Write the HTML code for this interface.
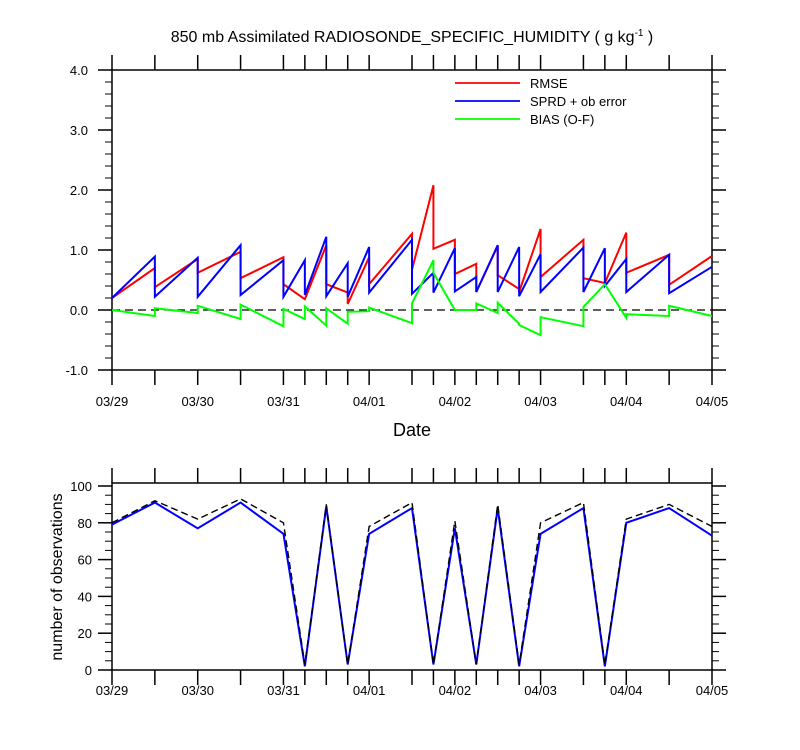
<!DOCTYPE html>
<html><head><meta charset="utf-8">
<style>
body{margin:0;background:#fff;}
svg{display:block;font-family:"Liberation Sans",Arial,sans-serif;}
</style></head>
<body>
<svg id="chart" width="800" height="750" viewBox="0 0 800 750">
<text x="412" y="42" text-anchor="middle" font-size="16">850 mb Assimilated RADIOSONDE_SPECIFIC_HUMIDITY ( g kg<tspan dy="-6" font-size="10">-1</tspan><tspan dy="6"> )</tspan></text>
<g id="topPanel"></g>
<g id="botPanel"></g>
<text x="412" y="436" text-anchor="middle" font-size="18">Date</text>
<text transform="translate(62,577) rotate(-90)" text-anchor="middle" font-size="16">number of observations</text>
<g>
<line x1="455" y1="83" x2="520" y2="83" stroke="#f00" stroke-width="1.8"/>
<text x="530" y="88" font-size="13">RMSE</text>
<line x1="455" y1="101" x2="520" y2="101" stroke="#00f" stroke-width="1.8"/>
<text x="530" y="106" font-size="13">SPRD + ob error</text>
<line x1="455" y1="119" x2="520" y2="119" stroke="#0f0" stroke-width="1.8"/>
<text x="530" y="124" font-size="13">BIAS (O-F)</text>
</g>
</svg>
<script>
const times=[0,0.5,1,1.5,2,2.25,2.5,2.75,3,3.5,3.75,4,4.25,4.5,4.75,5,5.5,5.75,6,6.5,7];
const dateLabels=["03/29","03/30","03/31","04/01","04/02","04/03","04/04","04/05"];
const yTopLabels=["-1.0","0.0","1.0","2.0","3.0","4.0"];
const yBotLabels=["0","20","40","60","80","100"];
const rmseStart=[0.2,0.38,0.62,0.53,0.43,0.18,0.43,0.1,0.43,0.67,1.02,0.6,0.3,0.58,0.3,0.55,0.53,0.45,0.62,0.42];
const rmseEnd=[0.7,0.85,0.97,0.88,0.18,1.08,0.29,0.88,1.27,2.08,1.17,0.77,1.07,0.35,1.35,1.17,0.45,1.29,0.92,0.9];
const sprdStart=[0.2,0.22,0.22,0.25,0.22,0.25,0.23,0.22,0.29,0.27,0.29,0.31,0.3,0.3,0.23,0.3,0.3,0.4,0.3,0.28];
const sprdEnd=[0.89,0.87,1.08,0.83,0.83,1.22,0.78,1.05,1.17,0.62,1.03,0.55,1.08,1.05,0.93,1.04,1.03,0.85,0.92,0.72];
const biasStart=[0.0,0.03,0.07,0.09,0.02,0.06,0.03,-0.03,0.04,0.11,0.62,0.0,0.11,0.12,-0.25,-0.12,0.05,0.43,-0.07,0.07];
const biasEnd=[-0.1,-0.05,-0.15,-0.27,-0.15,-0.26,-0.23,-0.02,-0.22,0.83,0.0,0.0,-0.05,-0.23,-0.42,-0.27,0.43,-0.13,-0.1,-0.1];
const obsUsed=[79,91,77,91,74,2,89,3,74,88,3,77,3,88,2,74,88,2,80,88,73];
const obsTotal=[80,92,82,93,80,3,90,3,78,91,3,81,3,90,3,80,91,3,82,90,78];

const NS="http://www.w3.org/2000/svg";
const X0=112,X1=712;
const xs=t=>X0+t*(X1-X0)/7;
const yT=v=>310-60*v;
const yB=v=>670-1.84*v;
function mk(p,tag,a){const e=document.createElementNS(NS,tag);for(const k in a)e.setAttribute(k,a[k]);p.appendChild(e);return e;}
const topG=document.getElementById('topPanel'),botG=document.getElementById('botPanel');

function axes(g,yt,yb,yMin,yMax,yStepMaj,yStepMin,yfn,labels,labY,labX){
  let r=mk(g,'rect',{x:X0,y:yt,width:X1-X0,height:yb-yt,fill:'none',stroke:'#000','stroke-width':1.5});
  
  
  const n=Math.round((yMax-yMin)/yStepMin);
  for(let k=0;k<=n;k++){
    const v=yMin+k*yStepMin;
    const maj=Math.abs(Math.round(v/yStepMaj)*yStepMaj-v)<1e-6;const L=maj?14:7;const y=yfn(v);
    mk(g,'line',{x1:X0-L,y1:y,x2:X0,y2:y,stroke:'#000','stroke-width':maj?1.5:1});
    mk(g,'line',{x1:X1,y1:y,x2:X1+L,y2:y,stroke:'#000','stroke-width':maj?1.5:1});
  }
  labels.forEach((s,i)=>{const v=yMin+i*yStepMaj;const t=mk(g,'text',{x:labX,y:yfn(v)+5,'text-anchor':'end','font-size':13});t.textContent=s;
    
    });
  times.forEach(t=>{const x=xs(t);
    mk(g,'line',{x1:x,y1:yt-15,x2:x,y2:yt,stroke:'#000','stroke-width':1.5});
    mk(g,'line',{x1:x,y1:yb,x2:x,y2:yb+15,stroke:'#000','stroke-width':1.5});});
  dateLabels.forEach((s,i)=>{const t=mk(g,'text',{x:xs(i),y:labY,'text-anchor':'middle','font-size':13});t.textContent=s;
    
    });
}
axes(topG,70,370,-1,4,1,0.2,yT,yTopLabels,406,88);
axes(botG,483,670,0,100,20,5,yB,yBotLabels,695,92);

let z=mk(topG,'line',{x1:X0,y1:yT(0),x2:X1,y2:yT(0),stroke:'#000','stroke-width':1.3,'stroke-dasharray':'8,5'});



function seg(st,en,col,name){
  let d='';for(let i=0;i<st.length;i++){d+=(i?'L':'M')+xs(times[i])+','+yT(st[i])+'L'+xs(times[i+1])+','+yT(en[i]);}
  const p=mk(topG,'path',{d:d,fill:'none',stroke:col,'stroke-width':2});
  
  
}
seg(rmseStart,rmseEnd,'#f00','rmse-line');
seg(sprdStart,sprdEnd,'#00f','sprd-line');
seg(biasStart,biasEnd,'#0f0','bias-line');

function ln(vals,col,dash,w,name){
  const d=vals.map((v,i)=>(i?'L':'M')+xs(times[i])+','+yB(v)).join('');
  const a={d:d,fill:'none',stroke:col,'stroke-width':w};if(dash)a['stroke-dasharray']=dash;
  const p=mk(botG,'path',a);
  
  
}
ln(obsUsed,'#00f',null,2,'obs-used-line');
ln(obsTotal,'#000','7,4',1.4,'obs-total-line');
</script>
</body></html>
